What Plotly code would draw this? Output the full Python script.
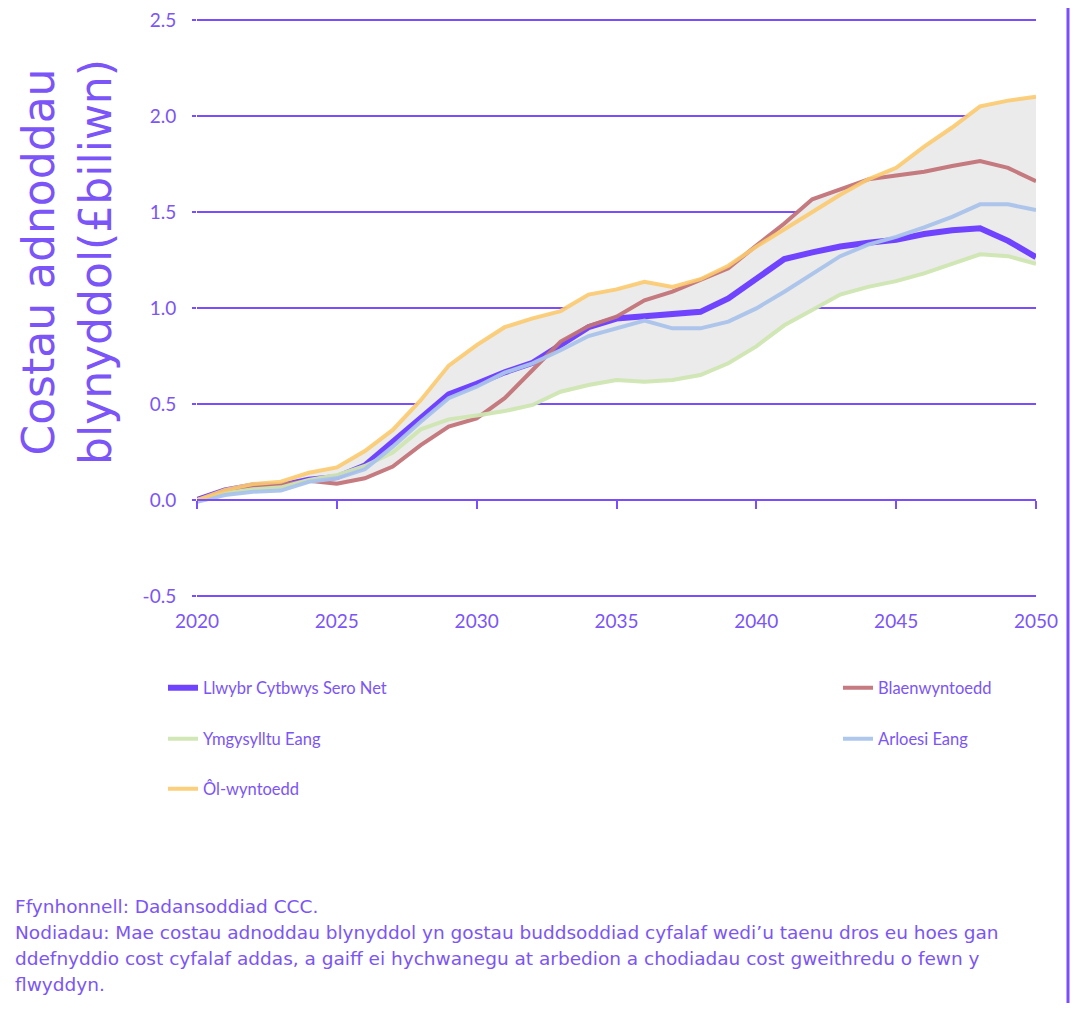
import numpy as np
import plotly.graph_objects as go

years = list(range(2020, 2051))

llwybr = [0.00, 0.05, 0.075, 0.075, 0.105, 0.12, 0.18, 0.30, 0.43, 0.55, 0.605, 0.665, 0.715, 0.81, 0.90,
          0.945, 0.958, 0.968, 0.98, 1.05, 1.155, 1.255, 1.29, 1.32, 1.34, 1.355, 1.385, 1.405, 1.415, 1.35, 1.265]
blaen = [0.00, 0.043, 0.073, 0.078, 0.10, 0.085, 0.113, 0.174, 0.286, 0.382, 0.425, 0.53, 0.677, 0.825, 0.906,
         0.955, 1.04, 1.085, 1.146, 1.207, 1.325, 1.44, 1.566, 1.62, 1.67, 1.69, 1.71, 1.74, 1.765, 1.73, 1.66]
ymgys = [0.00, 0.035, 0.056, 0.066, 0.104, 0.13, 0.177, 0.247, 0.368, 0.42, 0.44, 0.463, 0.495, 0.564, 0.599,
         0.625, 0.616, 0.625, 0.651, 0.712, 0.80, 0.91, 0.99, 1.07, 1.11, 1.14, 1.18, 1.23, 1.28, 1.27, 1.23]
arloesi = [-0.01, 0.026, 0.043, 0.049, 0.095, 0.113, 0.16, 0.278, 0.408, 0.53, 0.59, 0.663, 0.712, 0.78, 0.854,
           0.894, 0.934, 0.894, 0.894, 0.929, 0.998, 1.085, 1.18, 1.27, 1.33, 1.37, 1.42, 1.475, 1.54, 1.54, 1.51]
ol = [0.00, 0.052, 0.083, 0.095, 0.142, 0.17, 0.255, 0.365, 0.52, 0.70, 0.807, 0.90, 0.946, 0.984, 1.07,
      1.097, 1.137, 1.11, 1.15, 1.22, 1.32, 1.41, 1.50, 1.59, 1.67, 1.73, 1.84, 1.94, 2.05, 2.08, 2.10]

names = ["Llwybr Cytbwys Sero Net", "Blaenwyntoedd", "Ymgysylltu Eang", "Arloesi Eang", "Ôl-wyntoedd"]
x_ticks = [2020, 2025, 2030, 2035, 2040, 2045, 2050]
y_ticks = [-0.5, 0.0, 0.5, 1.0, 1.5, 2.0, 2.5]
y_tick_labels = ["-0.5", "0.0", "0.5", "1.0", "1.5", "2.0", "2.5"]
y_title = "Costau adnoddau<br>blynyddol(£biliwn)"
notes = [
    "Ffynhonnell: Dadansoddiad CCC.",
    "Nodiadau: Mae costau adnoddau blynyddol yn gostau buddsoddiad cyfalaf wedi’u taenu dros eu hoes gan",
    "ddefnyddio cost cyfalaf addas, a gaiff ei hychwanegu at arbedion a chodiadau cost gweithredu o fewn y",
    "flwyddyn.",
]

PURPLE = "#7a4dff"
TEXT = "#7b55f7"
FONT = "Lato"
WIDE = "DejaVu Sans"

series = [llwybr, blaen, ymgys, arloesi, ol]
colors = ["#7044ff", "#c27479", "#cfe6b2", "#aac4ec", "#fcca6e"]
widths = [6, 4, 4, 4, 4]
opac = [1, 0.95, 0.95, 0.95, 0.9]
legends = ["legend", "legend2", "legend3", "legend4", "legend5"]

arr = np.array(series)
lower = arr.min(axis=0)
upper = arr.max(axis=0)

fig = go.Figure()
fig.add_trace(go.Scatter(x=years, y=lower, mode="lines", line=dict(width=0, color="#ebebeb"),
                         showlegend=False, hoverinfo="skip"))
fig.add_trace(go.Scatter(x=years, y=upper, mode="lines", line=dict(width=0, color="#ebebeb"),
                         fill="tonexty", fillcolor="#ebebeb", showlegend=False, hoverinfo="skip"))
for s, n, c, w, o, lg in zip(series, names, colors, widths, opac, legends):
    fig.add_trace(go.Scatter(x=years, y=s, name=n, mode="lines", line=dict(color=c, width=w),
                             opacity=o, legend=lg))
# axis at zero with tick marks
fig.add_trace(go.Scatter(x=[years[0], years[-1]], y=[None, None], xaxis="x2", yaxis="y",
                         showlegend=False, hoverinfo="skip"))

# page has an 8px body margin: figure coords = screen coords - 8
OFF = 8
W, H = 1062, 995
PAD_PX = 2                      # keep edge gridlines (-0.5, 2.5) inside the plot area
L, T = 197 - OFF, 20 - OFF - PAD_PX
PR, PB = 1036 - OFF, 596 - OFF + PAD_PX
R, B = W - PR, H - PB
pw, ph = PR - L, PB - T
ppu = (596 - 20) / (y_ticks[-1] - y_ticks[0])
pad = PAD_PX / ppu


def sx(px):
    return (px - OFF - L) / pw


def sy(py):
    return (PB - (py - OFF)) / ph


legend_common = dict(orientation="h", xanchor="left", yanchor="middle",
                     font=dict(family=FONT, size=16.5, color=TEXT),
                     bgcolor="rgba(0,0,0,0)", itemwidth=30)

fig.update_layout(
    width=W, height=H,
    margin=dict(l=L, r=R, t=T, b=B, autoexpand=False),
    paper_bgcolor="white", plot_bgcolor="white",
    font=dict(family=FONT, color=TEXT),
    xaxis=dict(range=[2020, 2050], tickvals=x_ticks, showgrid=False, zeroline=False, showline=False,
               ticks="", tickfont=dict(family=FONT, size=19, color=TEXT), ticklabelstandoff=10,
               automargin=False, ticklabeloverflow="allow"),
    xaxis2=dict(range=[2020, 2050], tickvals=x_ticks, overlaying="x", anchor="free",
                position=(0 - y_ticks[0] + pad) / (y_ticks[-1] - y_ticks[0] + 2 * pad), showline=True,
                linecolor=PURPLE, linewidth=2, ticks="outside", ticklen=8, tickwidth=2,
                tickcolor=PURPLE, showticklabels=False, showgrid=False, zeroline=False, automargin=False),
    yaxis=dict(range=[y_ticks[0] - pad, y_ticks[-1] + pad], tickvals=y_ticks, ticktext=y_tick_labels,
               showgrid=True, gridcolor=PURPLE, gridwidth=2, zeroline=False, showline=False,
               ticks="outside", ticklen=4, tickcolor=PURPLE, tickwidth=2,
               tickfont=dict(family=FONT, size=19, color=TEXT), ticklabelstandoff=12,
               automargin=False, ticklabeloverflow="allow"),
    legend=dict(x=sx(163), y=sy(688), **legend_common),
    legend2=dict(x=sx(838), y=sy(688), **legend_common),
    legend3=dict(x=sx(163), y=sy(739), **legend_common),
    legend4=dict(x=sx(838), y=sy(739), **legend_common),
    legend5=dict(x=sx(163), y=sy(789), **legend_common),
    showlegend=True,
)

fig.add_annotation(text=y_title, xref="paper", yref="paper", x=sx(67), y=sy(262),
                   textangle=-90, showarrow=False, xanchor="center", yanchor="middle",
                   font=dict(family=WIDE, size=44, color=TEXT))

for i, t in enumerate(notes):
    fig.add_annotation(text=t, xref="paper", yref="paper", x=sx(13), y=sy(907 + 26 * i),
                       showarrow=False, xanchor="left", yanchor="middle", align="left",
                       font=dict(family=WIDE, size=18.5, color=TEXT))

fig.add_shape(type="line", xref="paper", yref="paper", x0=sx(1068), x1=sx(1068),
              y0=sy(0), y1=sy(1011), line=dict(color=PURPLE, width=3))

fig.write_html("out.html")
